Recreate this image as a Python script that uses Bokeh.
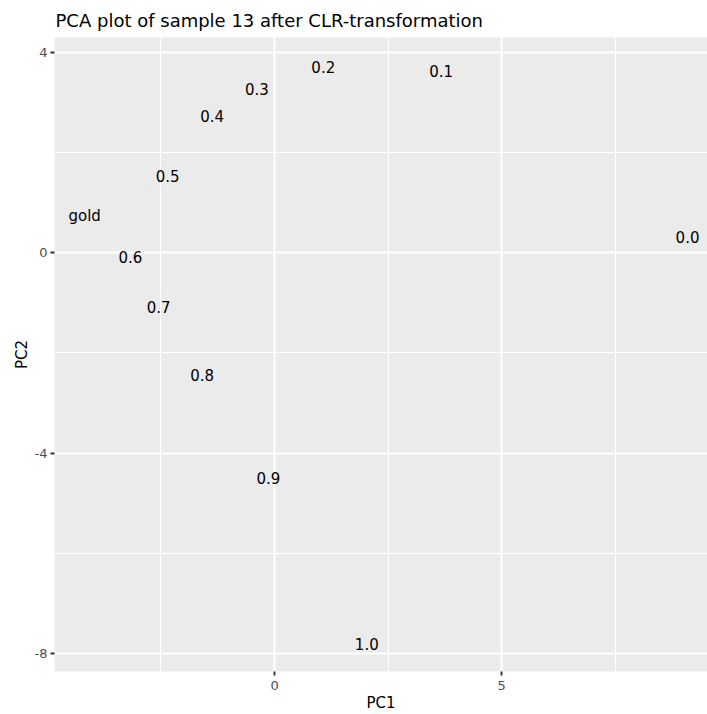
from bokeh.plotting import figure
from bokeh.models import ColumnDataSource, FixedTicker
from bokeh.core.properties import value
from bokeh.embed import file_html
from bokeh.resources import INLINE

# Sample labels and their first two principal-component scores
labels = ["0.0", "0.1", "0.2", "0.3", "0.4", "0.5", "0.6", "0.7", "0.8", "0.9", "1.0", "gold"]
pc1 = [9.095, 3.668, 1.074, -0.390, -1.374, -2.354, -3.172, -2.552, -1.594, -0.134, 2.032, -4.181]
pc2 = [0.314, 3.626, 3.707, 3.280, 2.730, 1.536, -0.086, -1.081, -2.444, -4.507, -7.811, 0.736]

x_major = [0, 5]
x_minor = [-2.5, 2.5, 7.5]
y_major = [-8, -4, 0, 4]
y_minor = [-6, -2, 2]

FONT = "DejaVu Sans"

src = ColumnDataSource(dict(pc1=pc1, pc2=pc2, label=labels))

p = figure(
    width=707, height=714,
    x_range=(-4.845, 9.535), y_range=(-8.364, 4.30),
    output_backend="svg", toolbar_location=None,
    title="PCA plot of sample 13 after CLR-transformation",
    min_border_left=54, min_border_right=0, min_border_top=37, min_border_bottom=41,
)

p.background_fill_color = "#EBEBEB"
p.border_fill_color = "white"
p.outline_line_color = None

p.title.text_font = FONT
p.title.text_font_size = "18px"
p.title.text_font_style = "normal"
p.title.text_color = "black"
p.title.align = "left"
p.title.offset = 1
p.title.standoff = 13

p.xaxis.ticker = FixedTicker(ticks=x_major, minor_ticks=x_minor)
p.yaxis.ticker = FixedTicker(ticks=y_major, minor_ticks=y_minor)
p.yaxis.major_label_overrides = {t: str(t) for t in y_major}
p.xaxis.axis_label = "PC1"
p.yaxis.axis_label = "PC2"

for ax in (p.xaxis[0], p.yaxis[0]):
    ax.axis_line_color = None
    ax.major_tick_in = 0
    ax.major_tick_out = 4
    ax.major_tick_line_color = "#333333"
    ax.major_tick_line_width = 1.9
    ax.minor_tick_in = 0
    ax.minor_tick_out = 0
    ax.major_label_text_font = FONT
    ax.major_label_text_font_size = "13px"
    ax.major_label_text_color = "#4D4D4D"
    ax.major_label_standoff = 3
    ax.axis_label_text_font = FONT
    ax.axis_label_text_font_size = "15px"
    ax.axis_label_text_font_style = "normal"
    ax.axis_label_text_color = "black"
    ax.axis_label_standoff = 4
p.yaxis.major_label_orientation = "horizontal"
p.xaxis.major_label_standoff = 5
p.xaxis.axis_label_standoff = 1
p.yaxis.axis_label_standoff = 1

for g in (p.xgrid[0], p.ygrid[0]):
    g.grid_line_color = "white"
    g.grid_line_width = 1.9
    g.minor_grid_line_color = "white"
    g.minor_grid_line_width = 1.0

p.text(
    x="pc1", y="pc2", text="label", source=src,
    text_font=value(FONT), text_font_size="15px",
    text_align="center", text_baseline="middle", text_color="black",
)

open("out.html", "w").write(file_html(p, INLINE))
